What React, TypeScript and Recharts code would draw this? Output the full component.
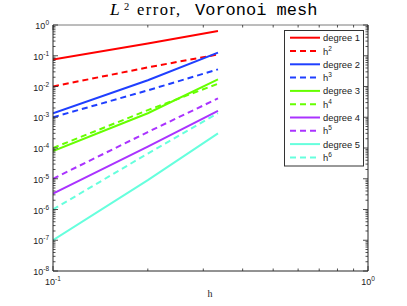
import React from 'react';
import { LineChart, Line, XAxis, YAxis } from 'recharts';

// mesh sizes h
const hValues = [0.1, 0.2, 0.334];
// L2 errors
const degree1 = [0.075, 0.25, 0.64];
const hPow2 = [0.01, 0.042, 0.11];
const degree2 = [0.00135, 0.016, 0.126];
const hPow3 = [0.001, 0.0075, 0.036];
const degree3 = [0.00008, 0.00135, 0.017];
const hPow4 = [0.0001, 0.0017, 0.0123];
const degree4 = [0.0000033, 0.00011, 0.0016];
const hPow5 = [0.00001, 0.00033, 0.0041];
const degree5 = [0.0000001, 0.000009, 0.0003];
const hPow6 = [0.000001, 0.000066, 0.00135];

const xMajorTicks = [0.1, 1];
const yMajorTicks = [1e-8, 1e-7, 1e-6, 1e-5, 1e-4, 1e-3, 1e-2, 1e-1, 1];

const series = [
  { key: 'degree1', name: 'degree 1', exp: '', values: degree1, color: '#ff0000', dashed: false },
  { key: 'hPow2', name: 'h', exp: '2', values: hPow2, color: '#ff0000', dashed: true },
  { key: 'degree2', name: 'degree 2', exp: '', values: degree2, color: '#1f3fff', dashed: false },
  { key: 'hPow3', name: 'h', exp: '3', values: hPow3, color: '#1f3fff', dashed: true },
  { key: 'degree3', name: 'degree 3', exp: '', values: degree3, color: '#66ff00', dashed: false },
  { key: 'hPow4', name: 'h', exp: '4', values: hPow4, color: '#66ff00', dashed: true },
  { key: 'degree4', name: 'degree 4', exp: '', values: degree4, color: '#aa33ff', dashed: false },
  { key: 'hPow5', name: 'h', exp: '5', values: hPow5, color: '#aa33ff', dashed: true },
  { key: 'degree5', name: 'degree 5', exp: '', values: degree5, color: '#66ffdd', dashed: false },
  { key: 'hPow6', name: 'h', exp: '6', values: hPow6, color: '#66ffdd', dashed: true },
];

const data = hValues.map((h, i) => {
  const row: Record<string, number> = { h };
  series.forEach((s) => {
    row[s.key] = s.values[i];
  });
  return row;
});

const withMinor = (majors: number[]) => {
  const out: number[] = [];
  majors.forEach((m, i) => {
    out.push(m);
    if (i < majors.length - 1) {
      for (let k = 2; k <= 9; k++) out.push(m * k);
    }
  });
  return out;
};

const xTicks = withMinor(xMajorTicks);
const yTicks = withMinor(yMajorTicks);

const isMajor = (v: number) => {
  const l = Math.log10(v);
  return Math.abs(l - Math.round(l)) < 1e-6;
};

const FONT = '"Liberation Sans", Arial, Helvetica, sans-serif';
const SERIF = '"Liberation Serif", "DejaVu Serif", serif';
const AXIS = '#262626';

const BottomTick = (props: any) => {
  const { x, y, payload } = props;
  const v = payload.value;
  const major = isMajor(v);
  const len = major ? 5 : 2.5;
  return (
    <g>
      <line x1={x} x2={x} y1={y} y2={y - len} stroke={AXIS} strokeWidth={0.8} />
      {major && (
        <text x={x} y={y + 14} textAnchor="middle" fontFamily={FONT} fill="#222">
          <tspan fontSize={9}>10</tspan>
          <tspan fontSize={6.5} dy={-4}>{String(Math.round(Math.log10(v)))}</tspan>
        </text>
      )}
    </g>
  );
};

const TopTick = (props: any) => {
  const { x, y, payload } = props;
  const major = isMajor(payload.value);
  const len = major ? 5 : 2.5;
  return <line x1={x} x2={x} y1={y} y2={y + len} stroke={AXIS} strokeWidth={0.8} />;
};

const LeftTick = (props: any) => {
  const { x, y, payload } = props;
  const v = payload.value;
  const major = isMajor(v);
  const len = major ? 5 : 2.5;
  return (
    <g>
      <line x1={x} x2={x + len} y1={y} y2={y} stroke={AXIS} strokeWidth={0.8} />
      {major && (
        <text x={x - 4} y={y + 4} textAnchor="end" fontFamily={FONT} fill="#222">
          <tspan fontSize={9}>10</tspan>
          <tspan fontSize={6.5} dy={-4}>{String(Math.round(Math.log10(v)))}</tspan>
        </text>
      )}
    </g>
  );
};

const RightTick = (props: any) => {
  const { x, y, payload } = props;
  const major = isMajor(payload.value);
  const len = major ? 5 : 2.5;
  return <line x1={x} x2={x - len} y1={y} y2={y} stroke={AXIS} strokeWidth={0.8} />;
};

export default function App() {
  return (
    <div style={{ position: 'absolute', left: 0, top: 0, width: 407, height: 306, background: '#fff' }}>
      <LineChart width={407} height={306} data={data} margin={{ top: 0, right: 0, bottom: 0, left: 0 }}>
        <XAxis
          dataKey="h"
          type="number"
          scale="log"
          domain={[0.1, 1]}
          allowDataOverflow
          ticks={xTicks}
          interval={0}
          tick={<BottomTick />}
          tickLine={false}
          tickSize={0}
          tickMargin={0}
          height={35}
          axisLine={{ stroke: AXIS, strokeWidth: 1 }}
        />
        <XAxis
          xAxisId="top"
          orientation="top"
          dataKey="h"
          type="number"
          scale="log"
          domain={[0.1, 1]}
          allowDataOverflow
          ticks={xTicks}
          interval={0}
          tick={<TopTick />}
          tickLine={false}
          tickSize={0}
          tickMargin={0}
          height={25}
          axisLine={{ stroke: '#7a7a7a', strokeWidth: 1 }}
        />
        <YAxis
          type="number"
          scale="log"
          domain={[1e-8, 1]}
          allowDataOverflow
          ticks={yTicks}
          interval={0}
          tick={<LeftTick />}
          tickLine={false}
          tickSize={0}
          tickMargin={0}
          width={53}
          axisLine={{ stroke: AXIS, strokeWidth: 1 }}
        />
        <YAxis
          yAxisId="right"
          orientation="right"
          type="number"
          scale="log"
          domain={[1e-8, 1]}
          allowDataOverflow
          ticks={yTicks}
          interval={0}
          tick={<RightTick />}
          tickLine={false}
          tickSize={0}
          tickMargin={0}
          width={39}
          axisLine={{ stroke: AXIS, strokeWidth: 1 }}
        />
        {series.map((s) => (
          <Line
            key={s.key}
            dataKey={s.key}
            stroke={s.color}
            strokeWidth={2}
            strokeDasharray={s.dashed ? '6 4' : undefined}
            dot={false}
            isAnimationActive={false}
          />
        ))}
      </LineChart>
      <svg
        width={407}
        height={306}
        style={{ position: 'absolute', left: 0, top: 0, pointerEvents: 'none' }}
      >
        <text x={110} y={14.5} fontSize={17.5} fontFamily={SERIF} fontStyle="italic" fill="#000">
          L
        </text>
        <text x={124} y={10} fontSize={10.5} fontFamily={SERIF} fill="#000">
          2
        </text>
        <text x={137} y={14.5} fontSize={16.5} fontFamily={SERIF} letterSpacing={1.5} fill="#000">
          error,
        </text>
        <text x={195} y={14.5} fontSize={17} fontFamily='"Liberation Mono", monospace' fill="#000">
          Voronoi mesh
        </text>
        <text x={210} y={297} fontSize={10} fontFamily={SERIF} textAnchor="middle" fill="#222">
          h
        </text>
        <rect x={284.5} y={30.5} width={79} height={135.5} fill="#fff" stroke="#333" strokeWidth={1} />
        {series.map((s, i) => {
          const y = 37.7 + i * 13.3;
          return (
            <g key={s.key}>
              <line
                x1={290}
                x2={320}
                y1={y}
                y2={y}
                stroke={s.color}
                strokeWidth={2}
                strokeDasharray={s.dashed ? '6 4' : undefined}
              />
              <text x={323} y={y + 3.5} fontFamily={FONT} fontSize={9.4} fill="#222">
                <tspan>{s.name}</tspan>
                {s.exp && (
                  <tspan fontSize={6.5} dy={-4}>
                    {s.exp}
                  </tspan>
                )}
              </text>
            </g>
          );
        })}
      </svg>
    </div>
  );
}
